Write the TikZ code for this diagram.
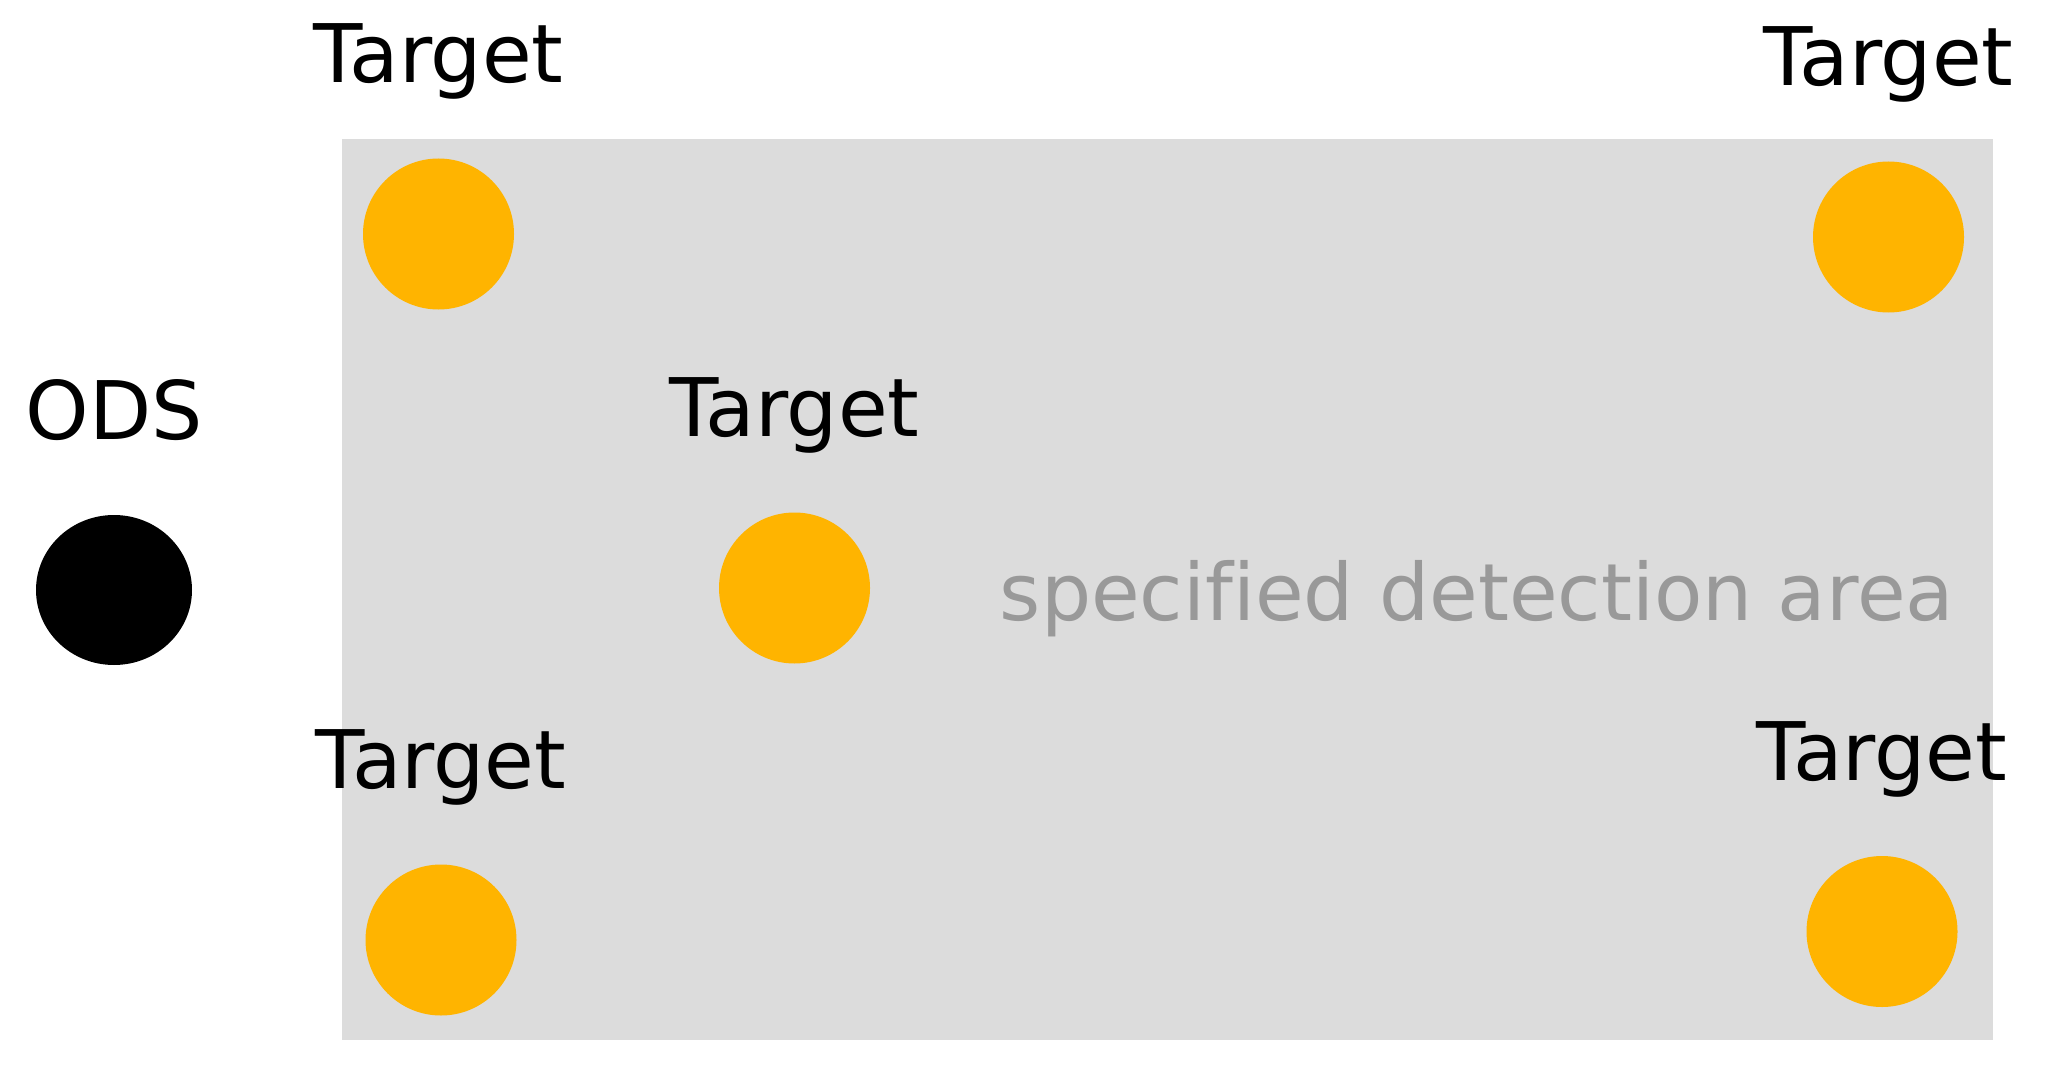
\documentclass[tikz,border=0pt]{standalone}
\usepackage{fontspec}
\setmainfont{DejaVu Sans}[Ligatures=NoCommon]
\usetikzlibrary{positioning,shapes.geometric}

\definecolor{targetorange}{HTML}{FFB400}
\definecolor{areagray}{HTML}{DCDCDC}
\definecolor{areatext}{HTML}{999999}

\begin{document}
\begin{tikzpicture}[targetnode/.style={circle, fill=targetorange, inner sep=0pt, minimum size=1.51cm},
    odsnode/.style={ellipse, fill=black, inner sep=0pt, minimum width=1.56cm, minimum height=1.5cm},
    namenode/.style={inner sep=0pt, anchor=base, font=\fontsize{23}{27}\selectfont},
    node distance=0.75cm]
    \useasboundingbox (0,0) rectangle (20.47,10.73);
    %Area
    \fill[areagray] (3.42,0.33) rectangle (19.93,9.34);
    \node[namenode, text=areatext, font=\fontsize{22.5}{27}\selectfont] (area) at (14.77,4.53) {specified detection area};

    %Nodes
    \node[odsnode]          (ods)   at (1.14,4.83)  {};
    \node[targetnode]       (t0)    at (4.385,8.39) {};
    \node[targetnode]       (t1)    at (18.885,8.36) {};
    \node[targetnode]       (t2)    at (7.945,4.85) {};
    \node[targetnode]       (t3)    at (4.41,1.33)  {};
    \node[targetnode]       (t4)    at (18.82,1.415) {};

    %Labels
    \node[namenode]         (l0)    [above=of t0, anchor=base]  {Target};
    \node[namenode]         (l1)    [above=of t1, anchor=base]  {Target};
    \node[namenode]         (l2)    [above=of t2, anchor=base]  {Target};
    \node[namenode]         (l3)    [above=of t3, anchor=base]  {Target};
    \node[namenode]         (l4)    [above=of t4, anchor=base]  {Target};
    \node[namenode]         (lods)  [above=of ods, anchor=base] {ODS};
\end{tikzpicture}
\end{document}
